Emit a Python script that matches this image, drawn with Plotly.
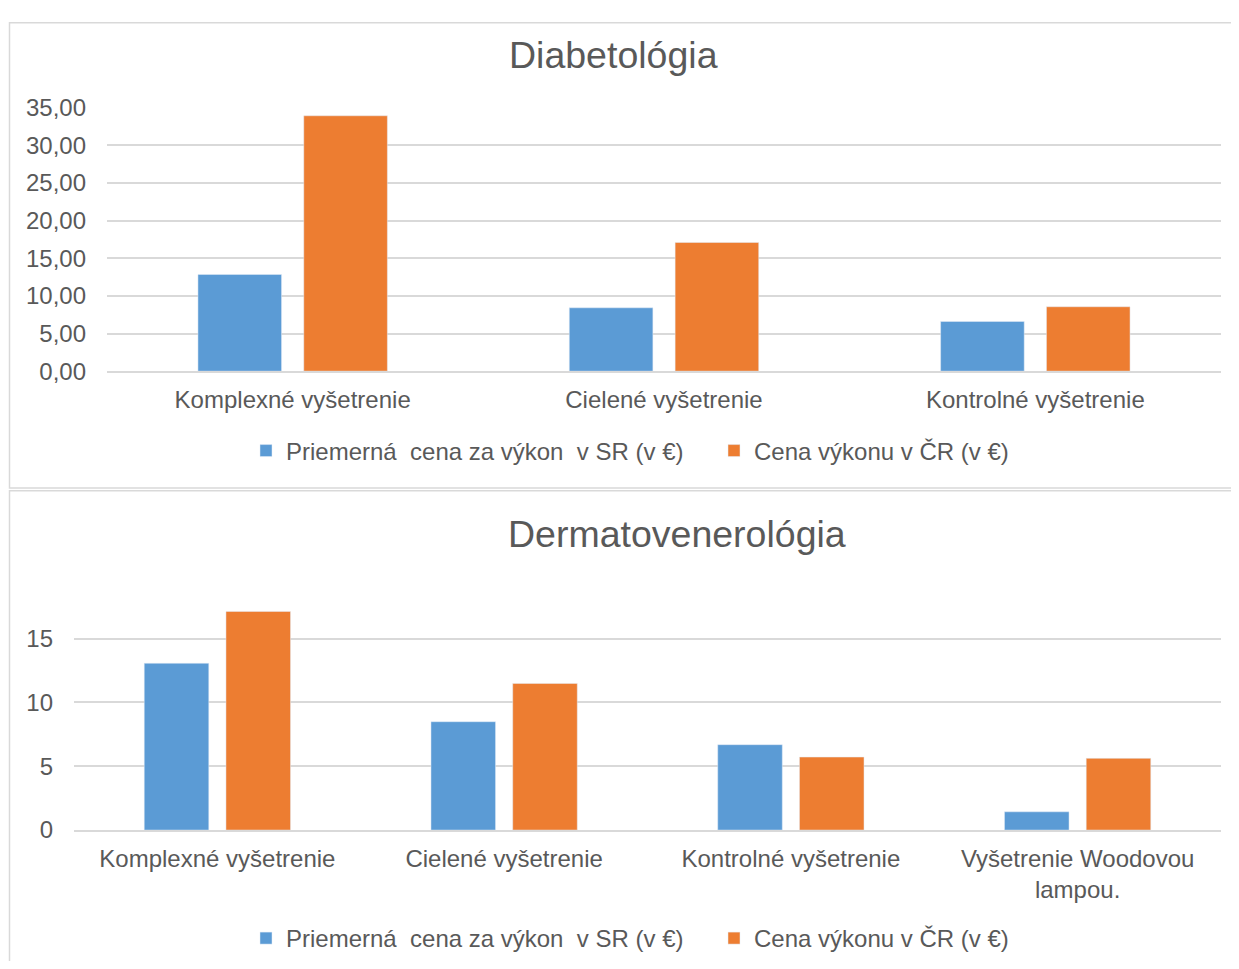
import plotly.graph_objects as go

W, H = 1223, 953   # page body has an 8px margin inside the window
OFFX = 8
# measured vertical mapping of the photographed page: shown_y = K * fig_y + D
K, D = 0.9698, 22.0

# Data
cats_diab = ["Komplexné vyšetrenie", "Cielené vyšetrenie", "Kontrolné vyšetrenie"]
sr_diab = [12.85, 8.42, 6.60]
cr_diab = [33.94, 17.10, 8.56]

cats_derm = ["Komplexné vyšetrenie", "Cielené vyšetrenie", "Kontrolné vyšetrenie",
             "Vyšetrenie Woodovou<br>lampou."]
sr_derm = [13.07, 8.49, 6.69, 1.43]
cr_derm = [17.13, 11.49, 5.72, 5.62]

name_sr = "Priemerná  cena za výkon  v SR (v €)"
name_cr = "Cena výkonu v ČR (v €)"

BLUE = "#5B9BD5"
ORANGE = "#ED7D31"
TXT = "#595959"
GRID = "#D9D9D9"
FONT = "Liberation Sans, Arial, sans-serif"

def px_x(p):
    return (p - OFFX) / W

def px_y(p):
    fy = (p - D) / K
    fy = max(fy, 0.75)
    return 1 - fy / H

fig = go.Figure()
fig.add_trace(go.Bar(x=cats_diab, y=sr_diab, name=name_sr, marker_color=BLUE,
                     xaxis="x", yaxis="y", legend="legend"))
fig.add_trace(go.Bar(x=cats_diab, y=cr_diab, name=name_cr, marker_color=ORANGE,
                     xaxis="x", yaxis="y", legend="legend"))
fig.add_trace(go.Bar(x=cats_derm, y=sr_derm, name=name_sr, marker_color=BLUE,
                     xaxis="x2", yaxis="y2", legend="legend2"))
fig.add_trace(go.Bar(x=cats_derm, y=cr_derm, name=name_cr, marker_color=ORANGE,
                     xaxis="x2", yaxis="y2", legend="legend2"))

tickfont = dict(family=FONT, size=24, color=TXT)
legfont = dict(family=FONT, size=24, color=TXT)

fig.update_layout(
    width=W, height=H,
    margin=dict(l=0, r=0, t=0, b=0),
    paper_bgcolor="white", plot_bgcolor="white",
    barmode="group", bargap=0.43, bargroupgap=0.21,
    font=dict(family=FONT, color=TXT),
    separators=", ",
    xaxis=dict(domain=[px_x(107), px_x(1221)], anchor="y", showgrid=False,
               showline=True, linecolor=GRID, linewidth=1.5, ticks="",
               tickfont=tickfont, ticklabelstandoff=6),
    yaxis=dict(domain=[px_y(372), px_y(108)], anchor="x", range=[0, 35],
               dtick=5, tickformat=".2f",
               showgrid=True, gridcolor=GRID, gridwidth=1.5, zeroline=False,
               showline=False, ticks="", tickfont=tickfont, ticklabelstandoff=20),
    xaxis2=dict(domain=[px_x(74), px_x(1221)], anchor="y2", showgrid=False,
                showline=True, linecolor=GRID, linewidth=1.5, ticks="",
                tickfont=tickfont, ticklabelstandoff=6),
    yaxis2=dict(domain=[px_y(832), px_y(580)], anchor="x2", range=[0, 19.7],
                dtick=5, showgrid=True, gridcolor=GRID, gridwidth=1.5,
                zeroline=False, showline=False, ticks="", tickfont=tickfont,
                ticklabelstandoff=20),
    legend=dict(orientation="h", x=px_x(246), xanchor="left",
                y=px_y(452), yanchor="middle", font=legfont,
                entrywidth=423, entrywidthmode="pixels",
                bgcolor="rgba(0,0,0,0)", traceorder="normal"),
    legend2=dict(orientation="h", x=px_x(246), xanchor="left",
                 y=px_y(941), yanchor="middle", font=legfont,
                 entrywidth=423, entrywidthmode="pixels",
                 bgcolor="rgba(0,0,0,0)", traceorder="normal"),
    annotations=[
        dict(text="Diabetológia", x=px_x(613), y=px_y(55), xref="paper", yref="paper",
             showarrow=False, xanchor="center", yanchor="middle",
             font=dict(family=FONT, size=37.5, color=TXT)),
        dict(text="Dermatovenerológia", x=px_x(677), y=px_y(535), xref="paper", yref="paper",
             showarrow=False, xanchor="center", yanchor="middle",
             font=dict(family=FONT, size=37.5, color=TXT)),
    ],
    shapes=[
        dict(type="rect", xref="paper", yref="paper",
             x0=px_x(9.5), x1=px_x(1260), y0=px_y(489), y1=px_y(12.5),
             line=dict(color=GRID, width=1.5), fillcolor="rgba(0,0,0,0)"),
        dict(type="rect", xref="paper", yref="paper",
             x0=px_x(9.5), x1=px_x(1260), y0=px_y(1000), y1=px_y(492),
             line=dict(color=GRID, width=1.5), fillcolor="rgba(0,0,0,0)"),
    ],
)

fig.write_html("out.html")
